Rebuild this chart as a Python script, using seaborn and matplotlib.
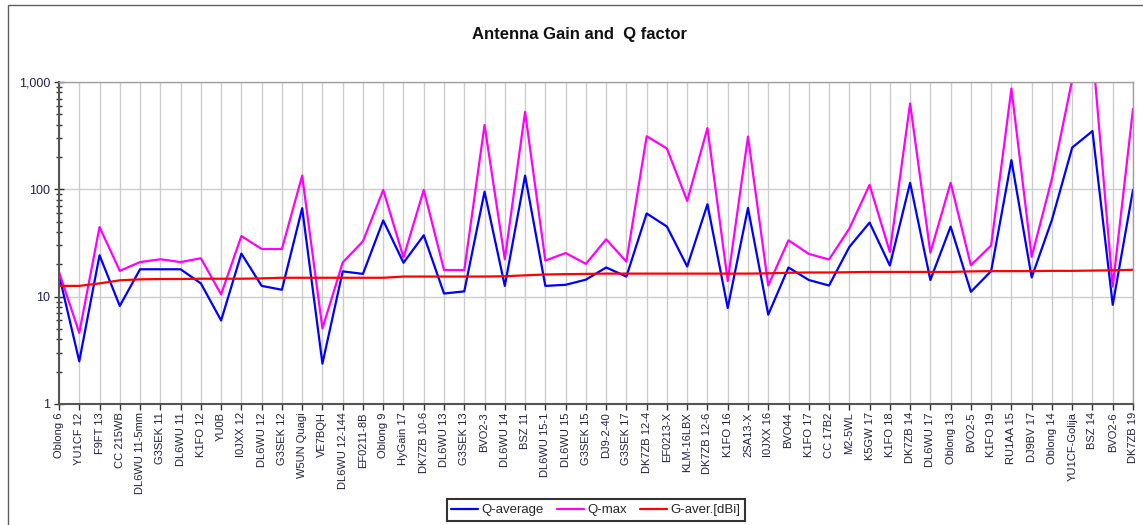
import numpy as np
import pandas as pd
import matplotlib
matplotlib.use("Agg")
import matplotlib.pyplot as plt
import matplotlib.ticker as mticker
from matplotlib.patches import Rectangle
import seaborn as sns

antennas = [
    "Oblong 6", "YU1CF 12", "F9FT 13", "CC 215WB", "DL6WU 11-5mm", "G3SEK 11",
    "DL6WU 11", "K1FO 12", "YU0B", "I0JXX 12", "DL6WU 12", "G3SEK 12",
    "W5UN Quagi", "VE7BQH", "DL6WU 12-144", "EF0211-8B", "Oblong 9", "HyGain 17",
    "DK7ZB 10-6", "DL6WU 13", "G3SEK 13", "BVO2-3", "DL6WU 14", "BSZ 11",
    "DL6WU 15-1", "DL6WU 15", "G3SEK 15", "DJ9-2-40", "G3SEK 17", "DK7ZB 12-4",
    "EF0213-X", "KLM-16LBX", "DK7ZB 12-6", "K1FO 16", "2SA13-X", "I0JXX 16",
    "BVO44", "K1FO 17", "CC 17B2", "M2-5WL", "K5GW 17", "K1FO 18",
    "DK7ZB 14", "DL6WU 17", "Oblong 13", "BVO2-5", "K1FO 19", "RU1AA 15",
    "DJ9BV 17", "Oblong 14", "YU1CF-Golija", "BSZ 14", "BVO2-6", "DK7ZB 19",
]

q_average = [
    16, 2.5, 24.3, 8.2, 18, 18, 18, 13.3, 6.0, 25.2, 12.6, 11.6,
    66.7, 2.38, 17.2, 16.3, 51.3, 20.7, 37.3, 10.7, 11.2, 95, 12.6, 134,
    12.6, 12.9, 14.4, 18.7, 15.4, 59.6, 45, 19.1, 72.6, 7.85, 67, 6.8,
    18.7, 14.3, 12.7, 29, 49, 19.5, 115, 14.3, 45, 11.1, 17.3, 187,
    15.1, 52, 245, 349, 8.4, 99,
]

q_max = [
    17, 4.6, 44.5, 17.4, 21, 22.3, 21, 22.8, 10.5, 36.7, 27.8, 27.8,
    134, 5.06, 20.8, 32.8, 98.6, 23.2, 98.6, 17.7, 17.7, 397, 22.3, 527,
    21.7, 25.5, 20.2, 34.2, 21.2, 312, 240, 78, 372, 14.0, 310, 12.7,
    33.5, 25.0, 22.2, 43, 110, 26.1, 631, 25.7, 115, 19.6, 30, 867,
    23.5, 126, 1050, 2000, 12.4, 562,
]

g_aver = [
    12.6, 12.6, 13.3, 14.2, 14.5, 14.6, 14.6, 14.7, 14.7, 14.7, 14.8, 15.0,
    15.0, 15.0, 15.0, 15.0, 15.0, 15.4, 15.4, 15.4, 15.4, 15.4, 15.5, 15.8,
    16.1, 16.2, 16.3, 16.4, 16.4, 16.4, 16.4, 16.4, 16.4, 16.4, 16.4, 16.5,
    16.7, 16.8, 16.8, 16.9, 17.0, 17.0, 17.0, 17.0, 17.0, 17.2, 17.3, 17.3,
    17.3, 17.4, 17.4, 17.5, 17.6, 17.8,
]

series_names = ["Q-average", "Q-max", "G-aver.[dBi]"]
series_colors = ["#0000ff", "#ff00ff", "#ff0000"]
y_ticks = [1, 10, 100, 1000]

sns.set_theme(style="white")
plt.rcParams["font.family"] = ["Liberation Sans", "DejaVu Sans"]

pos = np.arange(len(antennas))
df = pd.DataFrame({
    "pos": np.concatenate([pos, pos, pos]),
    "value": np.concatenate([q_average, q_max, g_aver]),
    "series": np.repeat(series_names, len(antennas)),
})

fig = plt.figure(figsize=(11.43, 5.25), dpi=100)
ax = fig.add_axes([59 / 1143, 1 - 404 / 525, (1133 - 59) / 1143, (404 - 82) / 525])

sns.lineplot(data=df, x="pos", y="value", hue="series", hue_order=series_names,
             palette=dict(zip(series_names, series_colors)), sort=False,
             linewidth=1.6, ax=ax, legend=False)

ax.set_yscale("log")
ax.set_ylim(1, 1000)
ax.set_xlim(0, len(antennas) - 1)
ax.set_yticks(y_ticks)
ax.yaxis.set_major_formatter(mticker.FuncFormatter(lambda v, p: f"{int(round(v)):,}"))
ax.yaxis.set_minor_locator(mticker.LogLocator(base=10, subs=np.arange(2, 10)))
ax.yaxis.set_minor_formatter(mticker.NullFormatter())
ax.set_xticks(pos)
ax.set_xticklabels(antennas, rotation=90, fontsize=8, color="#202040")
ax.tick_params(axis="y", which="major", direction="inout", length=7, width=1,
               labelsize=9, labelcolor="#202050", color="#333333", pad=3, left=True)
ax.tick_params(axis="y", which="minor", direction="inout", length=5, width=1,
               color="#333333", left=True)
ax.tick_params(axis="x", direction="out", length=4, width=1, color="#333333",
               pad=2, bottom=True)
ax.set_xlabel("")
ax.set_ylabel("")

ax.grid(True, axis="x", color="#cccccc", linewidth=1)
ax.grid(True, axis="y", which="major", color="#cccccc", linewidth=1)
ax.set_axisbelow(True)
for side in ["top", "right"]:
    ax.spines[side].set_color("#a0a0a0")
    ax.spines[side].set_linewidth(1)
for side in ["left", "bottom"]:
    ax.spines[side].set_color("#555555")
    ax.spines[side].set_linewidth(1.5)

fig.text(580 / 1143, 1 - 34 / 525, "Antenna Gain and  Q factor", ha="center",
         va="center", fontsize=12, fontweight="bold", color="#111111")

handles = [plt.Line2D([0], [0], color=c, lw=1.6) for c in series_colors]
leg = fig.legend(handles, series_names, loc="center",
                 bbox_to_anchor=(596 / 1143, 1 - 510 / 525), ncol=3,
                 fontsize=9.5, frameon=True, fancybox=False, handlelength=2.0,
                 handletextpad=0.3, columnspacing=1.0, borderpad=0.35)
leg.get_frame().set_edgecolor("#000000")
leg.get_frame().set_linewidth(1.5)

fig.patches.append(Rectangle((8 / 1143, -0.1), 1.2, 1 - 5 / 525 + 0.1,
                             transform=fig.transFigure, fill=False,
                             edgecolor="#606060", linewidth=1))

fig.savefig("out.png", dpi=100)
